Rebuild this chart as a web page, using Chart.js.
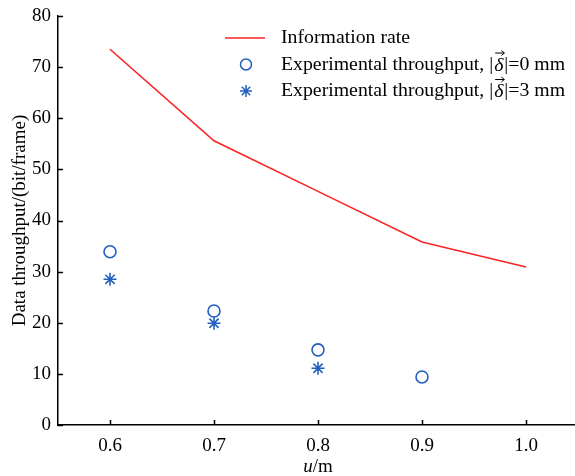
<!DOCTYPE html>
<html>
<head>
<meta charset="utf-8">
<script src="https://cdn.jsdelivr.net/npm/chart.js@4.4.1/dist/chart.umd.min.js"></script>
<style>
    html, body { margin: 0; background: #fff; overflow: hidden; }
    #wrap { width: 575px; height: 476px; overflow: hidden; }
</style>
</head>
<body>
<div id="wrap"><canvas id="chart" width="583" height="476"></canvas></div>
<script>
// valores
const uValues = [0.6, 0.7, 0.8, 0.9, 1.0];
const infoRate = [73.5, 55.6, 45.7, 35.8, 30.9];
const uExp0 = [0.6, 0.7, 0.8, 0.9];
const throughput0 = [33.9, 22.3, 14.7, 9.4];
const uExp3 = [0.6, 0.7, 0.8];
const throughput3 = [28.5, 19.9, 11.1];
const xTicks = [0.6, 0.7, 0.8, 0.9, 1.0];
const yTicks = [0, 10, 20, 30, 40, 50, 60, 70, 80];

const RED = 'rgb(250, 35, 35)';
const BLUE = 'rgb(35, 95, 190)';
const FONT = "'Liberation Serif', 'Times New Roman', serif";

const toPoints = (xs, ys) => xs.map((x, i) => ({ x: x, y: ys[i] }));

// ticks para dentro, legenda e título do eixo x
const extrasPlugin = {
    id: 'extras',
    afterDraw(chart) {
        const ctx = chart.ctx;
        const xs = chart.scales.x, ys = chart.scales.y;
        const area = chart.chartArea;
        ctx.save();
        ctx.strokeStyle = '#000';
        ctx.lineWidth = 1.5;
        yTicks.forEach(v => {
            const p = Math.round(ys.getPixelForValue(v)) + 0.5;
            ctx.beginPath();
            ctx.moveTo(area.left, p);
            ctx.lineTo(area.left + 5, p);
            ctx.stroke();
        });
        xTicks.forEach(v => {
            const p = Math.round(xs.getPixelForValue(v)) + 0.5;
            ctx.beginPath();
            ctx.moveTo(p, area.bottom);
            ctx.lineTo(p, area.bottom - 5);
            ctx.stroke();
        });

        // título do eixo x: u em itálico
        ctx.fillStyle = '#000';
        ctx.textBaseline = 'middle';
        ctx.textAlign = 'left';
        const italic = 'italic 19px ' + FONT, normal = '19px ' + FONT;
        ctx.font = italic;
        const wu = ctx.measureText('u').width;
        ctx.font = normal;
        const wm = ctx.measureText('/m').width;
        const cx = xs.getPixelForValue(0.8);
        let tx = cx - (wu + wm) / 2;
        ctx.font = italic;
        ctx.fillText('u', tx, 467);
        ctx.font = normal;
        ctx.fillText('/m', tx + wu, 467);

        // legenda
        const lx = 246, textX = 281;
        const rows = [38, 64.5, 91];
        ctx.strokeStyle = RED;
        ctx.lineWidth = 1.5;
        ctx.beginPath();
        ctx.moveTo(225, rows[0]);
        ctx.lineTo(265, rows[0]);
        ctx.stroke();
        ctx.strokeStyle = BLUE;
        ctx.beginPath();
        ctx.arc(lx, rows[1], 5.5, 0, Math.PI * 2);
        ctx.stroke();
        ctx.beginPath();
        for (let k = 0; k < 4; k++) {
            const a = k * Math.PI / 4;
            ctx.moveTo(lx - 6 * Math.cos(a), rows[2] - 6 * Math.sin(a));
            ctx.lineTo(lx + 6 * Math.cos(a), rows[2] + 6 * Math.sin(a));
        }
        ctx.stroke();

        const lf = '19.8px ' + FONT, lfi = 'italic 19.8px ' + FONT;
        ctx.fillStyle = '#000';
        ctx.font = lf;
        ctx.fillText(chart.data.datasets[0].label, textX, rows[0]);
        [[1, '0'], [2, '3']].forEach(([r, d]) => {
            let x = textX;
            ctx.font = lf;
            const a = 'Experimental throughput, |';
            ctx.fillText(a, x, rows[r]);
            x += ctx.measureText(a).width;
            ctx.font = lfi;
            ctx.fillText('\u03B4', x + 1, rows[r] + 1);
            const wd = ctx.measureText('\u03B4').width;
            // vetor sobre o delta
            ctx.strokeStyle = '#000';
            ctx.lineWidth = 1;
            const ay = rows[r] - 11.5;
            ctx.beginPath();
            ctx.moveTo(x + 2, ay);
            ctx.lineTo(x + wd + 2, ay);
            ctx.moveTo(x + wd - 1, ay - 2.5);
            ctx.lineTo(x + wd + 2, ay);
            ctx.lineTo(x + wd - 1, ay + 2.5);
            ctx.stroke();
            x += wd + 2;
            ctx.font = lf;
            ctx.fillText('|=' + d + ' mm', x, rows[r]);
        });
        ctx.restore();
    }
};

const ctx = document.getElementById('chart').getContext('2d');
new Chart(ctx, {
    type: 'scatter',
    data: {
        datasets: [
            {
                label: 'Information rate',
                data: toPoints(uValues, infoRate),
                showLine: true,
                borderColor: RED,
                borderWidth: 1.6,
                pointRadius: 0,
                tension: 0
            },
            {
                label: 'Experimental throughput, |\u03B4|=0 mm',
                data: toPoints(uExp0, throughput0),
                pointStyle: 'circle',
                pointRadius: 6,
                borderColor: BLUE,
                backgroundColor: 'rgba(0,0,0,0)',
                borderWidth: 1.6
            },
            {
                label: 'Experimental throughput, |\u03B4|=3 mm',
                data: toPoints(uExp3, throughput3),
                pointStyle: 'star',
                pointRadius: 6.5,
                borderColor: BLUE,
                backgroundColor: BLUE,
                borderWidth: 1.6
            }
        ]
    },
    options: {
        responsive: false,
        animation: false,
        layout: { padding: { top: 16, right: 0, left: 0, bottom: 0 } },
        plugins: {
            legend: { display: false },
            tooltip: { enabled: false }
        },
        scales: {
            x: {
                type: 'linear',
                min: 0.55,
                max: 1.047,
                afterBuildTicks: scale => { scale.ticks = xTicks.map(v => ({ value: v })); },
                afterFit: scale => {
                    scale.height = 51;
                    scale.paddingLeft = 0;
                    scale.paddingRight = 0;
                },
                grid: { display: false, drawTicks: false, tickLength: 0 },
                border: { display: true, color: '#000', width: 1.5 },
                ticks: {
                    color: '#000',
                    padding: 10,
                    maxRotation: 0,
                    font: { family: FONT, size: 19 },
                    callback: v => v.toFixed(1)
                }
            },
            y: {
                min: 0,
                max: 80,
                afterBuildTicks: scale => { scale.ticks = yTicks.map(v => ({ value: v })); },
                afterFit: scale => {
                    scale.width = 58;
                    scale.paddingTop = 0;
                    scale.paddingBottom = 0;
                },
                grid: { display: false, drawTicks: false, tickLength: 0 },
                border: { display: true, color: '#000', width: 1.5 },
                ticks: {
                    color: '#000',
                    padding: 7,
                    font: { family: FONT, size: 19 }
                },
                title: {
                    display: true,
                    text: 'Data throughput/(bit/frame)',
                    color: '#000',
                    padding: { top: 9, bottom: 0 },
                    font: { family: FONT, size: 19 }
                }
            }
        }
    },
    plugins: [extrasPlugin]
});
</script>
</body>
</html>
